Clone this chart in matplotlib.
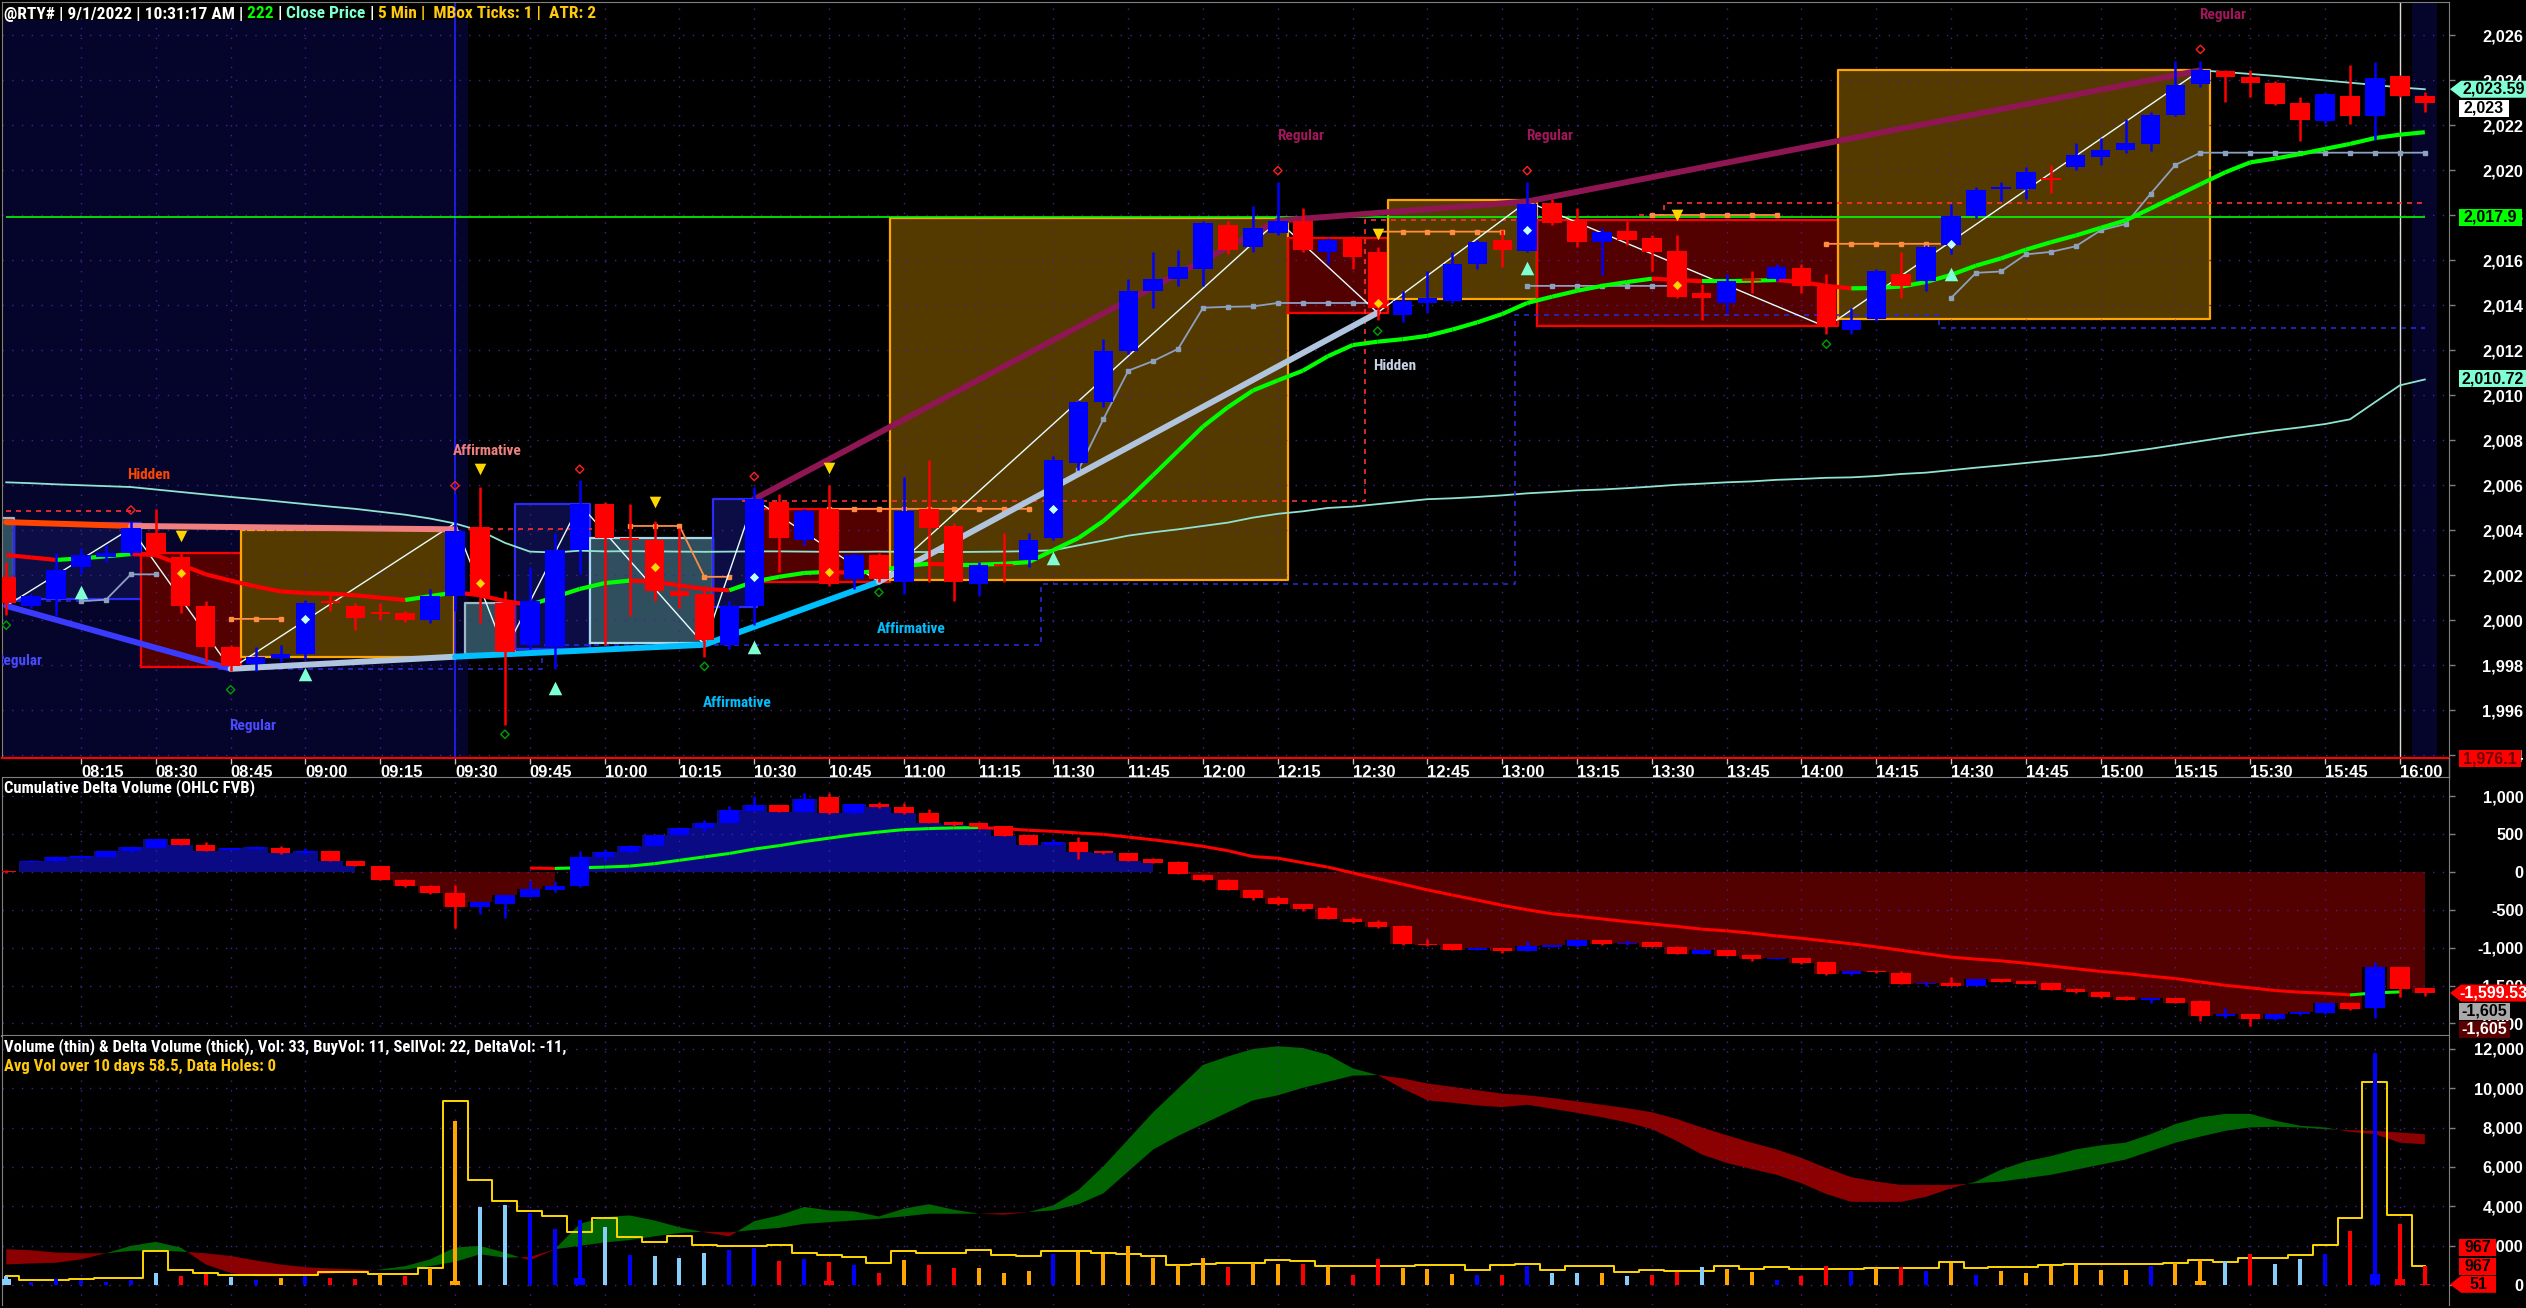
import matplotlib

matplotlib.use("Agg")

import matplotlib.pyplot as plt  # noqa: E402
import numpy as np  # noqa: E402
from matplotlib import font_manager  # noqa: E402
from matplotlib.collections import LineCollection  # noqa: E402
from matplotlib.patches import Polygon  # noqa: E402
from matplotlib.ticker import FuncFormatter  # noqa: E402
from matplotlib.transforms import IdentityTransform  # noqa: E402

W, H = 2526, 1308
nan = float("nan")

# ---------------------------------------------------------------- data
# 5 min bars, 08:00 .. 16:05 (98 bars)
time_labels = ["08:15", "08:30", "08:45", "09:00", "09:15", "09:30", "09:45", "10:00",
               "10:15", "10:30", "10:45", "11:00", "11:15", "11:30", "11:45", "12:00",
               "12:15", "12:30", "12:45", "13:00", "13:15", "13:30", "13:45", "14:00",
               "14:15", "14:30", "14:45", "15:00", "15:15", "15:30", "15:45", "16:00"]

price_open = [2001.92, 2000.63, 2000.95, 2002.35, 2002.78, 2003.00, 2003.86, 2002.78, 2000.63, 1998.80,
              1998.04, 1998.30, 1998.47, 2000.84, 2000.63, 2000.37, 2000.31, 1999.98, 2001.06, 2004.12,
              2000.74, 1998.90, 1998.80, 2003.11, 2005.15, 2003.64, 2003.54, 2001.27, 2001.17, 1998.90,
              2000.63, 2005.26, 2003.54, 2004.94, 2001.81, 2002.89, 2001.71, 2004.94, 2004.18, 2001.60,
              2002.50, 2002.67, 2003.64, 2006.98, 2009.68, 2011.94, 2014.63, 2015.17, 2015.60, 2017.54,
              2016.57, 2017.22, 2017.75, 2016.36, 2017.00, 2016.36, 2013.56, 2014.09, 2014.20, 2015.82,
              2016.89, 2016.40, 2018.55, 2017.75, 2016.79, 2017.28, 2017.00, 2016.40, 2014.52, 2014.09,
              2015.17, 2015.17, 2015.64, 2014.85, 2012.91, 2013.38, 2015.39, 2015.06, 2016.68, 2017.97,
              2019.16, 2019.16, 2019.63, 2020.12, 2020.56, 2020.88, 2021.16, 2022.45, 2023.83, 2024.39,
              2024.15, 2023.85, 2022.97, 2022.17, 2023.31, 2022.39, 2024.17, 2023.29]
price_high = [2002.57, 2001.17, 2003.00, 2003.21, 2003.32, 2004.40, 2004.94, 2003.00, 2000.84, 1998.90,
              1998.80, 1998.90, 2000.91, 2001.17, 2000.74, 2000.74, 2000.40, 2001.38, 2005.58, 2005.91,
              2001.27, 2002.35, 2003.86, 2006.23, 2005.26, 2005.15, 2004.40, 2004.07, 2001.49, 2000.84,
              2005.91, 2005.58, 2004.94, 2006.01, 2003.00, 2003.00, 2006.34, 2007.09, 2004.29, 2002.57,
              2003.86, 2003.86, 2007.31, 2009.78, 2012.48, 2015.17, 2016.36, 2016.46, 2017.75, 2017.75,
              2018.40, 2019.48, 2018.29, 2017.00, 2017.05, 2016.57, 2014.63, 2015.49, 2016.36, 2016.89,
              2017.32, 2019.48, 2018.72, 2018.29, 2017.43, 2017.75, 2017.10, 2017.11, 2014.95, 2015.39,
              2015.49, 2015.82, 2015.82, 2015.39, 2013.88, 2015.60, 2016.36, 2016.68, 2018.51, 2019.26,
              2019.48, 2020.12, 2020.23, 2021.20, 2021.42, 2022.28, 2022.60, 2024.86, 2024.86, 2024.43,
              2024.43, 2023.94, 2023.25, 2023.46, 2024.65, 2024.80, 2024.22, 2023.46]
price_low = [2000.24, 2000.52, 2000.20, 2002.03, 2002.60, 2002.90, 2002.78, 2000.31, 1998.15, 1997.72,
             1997.72, 1998.15, 1998.26, 2000.41, 1999.55, 1999.98, 1999.90, 1999.87, 2000.41, 1999.87,
             1995.35, 1998.69, 1997.83, 2002.03, 1998.90, 2000.20, 2000.84, 2000.52, 1998.37, 1998.69,
             1999.77, 2002.14, 2003.32, 2001.49, 2001.38, 2001.71, 2001.17, 2001.71, 2000.84, 2001.06,
             2001.71, 2002.35, 2003.54, 2006.66, 2009.46, 2011.83, 2013.88, 2014.85, 2014.85, 2016.25,
             2016.36, 2017.10, 2016.36, 2015.82, 2015.60, 2013.34, 2013.23, 2013.66, 2014.09, 2015.60,
             2015.71, 2016.36, 2017.54, 2016.57, 2015.32, 2016.68, 2015.49, 2014.30, 2013.34, 2013.66,
             2014.52, 2015.06, 2014.52, 2012.69, 2012.69, 2013.30, 2014.31, 2014.63, 2016.25, 2017.86,
             2018.62, 2018.72, 2018.98, 2020.02, 2020.23, 2020.77, 2020.83, 2022.39, 2023.68, 2023.03,
             2023.25, 2022.90, 2021.31, 2022.06, 2022.06, 2021.35, 2023.25, 2022.60]
price_close = [2000.74, 2001.06, 2002.24, 2002.89, 2003.00, 2004.07, 2003.00, 2000.63, 1998.80, 1997.94,
               1998.37, 1998.47, 2000.74, 2000.74, 2000.09, 2000.28, 1999.98, 2001.06, 2003.97, 2001.06,
               1998.58, 2000.84, 2003.11, 2005.15, 2003.64, 2003.54, 2001.27, 2001.06, 1999.12, 2000.63,
               2005.37, 2003.64, 2004.83, 2001.60, 2002.89, 2001.81, 2004.83, 2004.07, 2001.71, 2002.46,
               2002.42, 2003.54, 2007.09, 2009.68, 2011.94, 2014.63, 2015.17, 2015.71, 2017.65, 2016.46,
               2017.43, 2017.75, 2016.46, 2016.89, 2016.14, 2013.88, 2014.20, 2014.31, 2015.82, 2016.79,
               2016.46, 2018.51, 2017.65, 2016.79, 2017.26, 2016.89, 2016.36, 2014.37, 2014.31, 2015.06,
               2015.06, 2015.71, 2014.85, 2013.02, 2013.34, 2015.49, 2014.85, 2016.57, 2017.97, 2019.09,
               2019.26, 2019.91, 2019.54, 2020.66, 2020.88, 2021.20, 2022.45, 2023.79, 2024.43, 2024.15,
               2023.85, 2022.92, 2022.24, 2023.36, 2022.39, 2024.11, 2023.29, 2023.00]

ma_fast = [2002.89, 2002.78, 2002.67, 2002.74, 2002.83, 2002.93, 2002.89, 2002.46, 2002.03, 2001.75,
           2001.49, 2001.27, 2001.20, 2001.17, 2001.10, 2000.99, 2000.89, 2001.06, 2001.23, 2001.10,
           2000.84, 2000.67, 2001.02, 2001.38, 2001.64, 2001.75, 2001.71, 2001.53, 2001.38, 2001.32,
           2001.71, 2001.92, 2002.09, 2002.14, 2002.09, 2002.18, 2002.40, 2002.50, 2002.46, 2002.46,
           2002.50, 2002.57, 2003.11, 2003.64, 2004.40, 2005.37, 2006.44, 2007.52, 2008.60, 2009.46,
           2010.20, 2010.65, 2011.08, 2011.72, 2012.22, 2012.37, 2012.48, 2012.63, 2012.91, 2013.23,
           2013.60, 2014.09, 2014.37, 2014.63, 2014.85, 2015.02, 2015.17, 2015.11, 2015.06, 2015.06,
           2015.08, 2015.11, 2015.02, 2014.85, 2014.74, 2014.76, 2014.82, 2015.02, 2015.34, 2015.75,
           2016.07, 2016.46, 2016.79, 2017.09, 2017.43, 2017.76, 2018.29, 2018.83, 2019.37, 2019.90,
           2020.34, 2020.51, 2020.71, 2020.94, 2021.16, 2021.42, 2021.57, 2021.68]
ma_slow = [2006.12, 2006.08, 2006.03, 2005.99, 2005.95, 2005.91, 2005.80, 2005.69, 2005.58, 2005.47,
           2005.37, 2005.26, 2005.15, 2005.04, 2004.94, 2004.81, 2004.68, 2004.51, 2004.29, 2003.97,
           2003.43, 2003.04, 2003.00, 2003.08, 2003.05, 2003.06, 2003.05, 2003.04, 2003.03, 2003.04,
           2003.05, 2003.05, 2003.04, 2003.03, 2003.03, 2003.04, 2003.03, 2003.02, 2003.02, 2003.03,
           2003.04, 2003.06, 2003.10, 2003.32, 2003.53, 2003.75, 2003.90, 2004.03, 2004.18, 2004.33,
           2004.55, 2004.72, 2004.83, 2004.98, 2005.04, 2005.15, 2005.26, 2005.37, 2005.41, 2005.47,
           2005.54, 2005.63, 2005.69, 2005.76, 2005.80, 2005.86, 2005.93, 2006.01, 2006.06, 2006.12,
           2006.16, 2006.23, 2006.27, 2006.32, 2006.34, 2006.40, 2006.49, 2006.55, 2006.66, 2006.77,
           2006.87, 2006.98, 2007.09, 2007.20, 2007.31, 2007.46, 2007.61, 2007.78, 2007.95, 2008.12,
           2008.28, 2008.43, 2008.56, 2008.71, 2008.92, 2009.68, 2010.43, 2010.69]
top_line = [nan] * 88 + [2024.43, 2024.35, 2024.27, 2024.18, 2024.08, 2023.98, 2023.88, 2023.78,
                         2023.67, 2023.59]
trail_gray = ([nan] * 3 + [2000.84, 2000.90, 2002.03, 2002.03] + [nan] * 36
              + [2006.66, 2008.92, 2011.08, 2011.51, 2012.05, 2013.88, 2013.92, 2013.94]
              + [2014.09] * 5 + [nan] * 5 + [2014.85] * 7 + [nan] * 10
              + [2014.31, 2015.43, 2015.49, 2016.25, 2016.36, 2016.61, 2017.32, 2017.60, 2018.94,
                 2020.23] + [2020.77] * 10)
trail_orange = ([nan] * 9 + [2000.05] * 3 + [nan] * 13 + [2004.18] * 3 + [2001.92] * 2 + [nan] * 3
                + [2004.94] * 9 + [nan] * 13 + [2017.26] * 6 + [nan] * 5 + [2018.00] * 6 + [nan]
                + [2016.72] * 6 + [nan] * 19)
level_red = ([2004.83] * 6 + [nan] * 13 + [2004.03] * 5 + [nan] * 6 + [2005.30] * 25
             + [2017.76] * 7 + [nan] * 4 + [2018.00] + [2018.55] * 31)
level_blue = ([2000.85] * 4 + [nan] * 5 + [1997.83] * 13 + [1998.90] * 20 + [2001.60] * 19
              + [2013.55] * 17 + [2012.97] * 20)
green_level = 2017.9

zigzag_idx = [0, 5, 9, 18, 20, 23, 28, 30, 35, 51, 55, 61, 73, 88]
zigzag_px = [2000.63, 2004.07, 1997.83, 2004.30, 1998.62, 2005.15, 1998.90, 2005.37, 2001.70,
             2017.75, 2013.66, 2018.60, 2013.02, 2024.43]

div_line_idx = [[0, 5], [5, 18], [0, 9], [9, 18], [18, 28, 35], [35, 55], [30, 51, 61, 88]]
div_line_px = [[2004.35, 2004.18], [2004.18, 2004.03], [2000.63, 1997.83], [1997.83, 1998.37],
               [1998.37, 1998.90, 2001.70], [2001.70, 2013.66], [2005.37, 2017.75, 2018.60, 2024.43]]
div_line_color = ["#FF4500", "#F08080", "#3B3BFF", "#B0C4DE", "#00BFFF", "#B0C4DE", "#8E1652"]

div_text = ["Hidden", "Affirmative", "Regular", "Regular", "Affirmative", "Affirmative", "Hidden",
            "Regular", "Regular", "Regular"]
div_text_idx = [5.7, 19.3, 0.5, 9.9, 29.3, 36.3, 55.7, 51.9, 61.9, 88.9]
div_text_px = [2006.45, 2007.5, 1998.2, 1995.3, 1996.3, 1999.6, 2011.3, 2021.5, 2021.5, 2026.87]
div_text_color = ["#FF4500", "#F08080", "#4A4AFF", "#4A4AFF", "#00BFFF", "#00BFFF", "#C8D2E6",
                  "#A0185A", "#A0185A", "#A0185A"]

tri_dn_idx = [7, 19, 26, 33, 55, 67]
tri_dn_px = [2003.75, 2006.70, 2005.26, 2006.77, 2017.17, 2018.01]
tri_up_idx = [3, 12, 22, 30, 42, 61, 78]
tri_up_px = [2001.23, 1997.61, 1996.97, 1998.80, 2002.74, 2015.64, 2015.38]
top_dia_idx = [5, 18, 23, 30, 51, 61, 88]
top_dia_px = [2004.89, 2005.97, 2006.70, 2006.38, 2019.97, 2019.97, 2025.36]
bot_dia_idx = [0, 9, 20, 28, 35, 55, 73]
bot_dia_px = [1999.77, 1996.90, 1994.92, 1997.94, 2001.23, 2012.84, 2012.26]
yel_dot_idx = [7, 19, 26, 33, 55, 67]
yel_dot_px = [2002.07, 2001.66, 2002.35, 2002.14, 2014.09, 2014.89]
cyan_dot_idx = [12, 30, 42, 61, 78]
cyan_dot_px = [2000.05, 2001.92, 2004.94, 2017.32, 2016.72]

# MBox rectangles: left/right bar position, top/bottom price, kind
box_left = [-0.25, 0.33, 5.4, 9.4, 18.4, 20.4, 23.4, 28.35, 30.1, 35.45, 51.4, 55.4, 61.4, 73.45]
box_right = [0.33, 5.4, 9.4, 17.95, 20.4, 23.4, 28.35, 30.1, 35.45, 51.4, 55.4, 61.4, 73.45, 88.4]
box_top = [2004.55, 2004.30, 2003.00, 2004.00, 2000.74, 2005.15, 2003.65, 2005.37, 2004.93,
           2017.86, 2017.00, 2018.66, 2017.76, 2024.43]
box_bottom = [2000.95, 2000.95, 1997.90, 1998.37, 1998.47, 1998.70, 1999.00, 2000.60, 2001.70,
              2001.77, 2013.66, 2014.26, 2013.06, 2013.38]
box_kind = ["slate", "navy", "red", "brown", "slate", "navy", "slate2", "navy", "red", "brown",
            "red", "brown", "red", "brown"]

cdv_open = [0, 130, 144, 189, 198, 270, 315, 436, 355, 288,
            301, 315, 243, 279, 144, 76, -103, -180, -283, -463,
            -418, -328, -238, -193, 202, 256, 346, 481, 585, 648,
            805, 877, 796, 985, 774, 895, 850, 774, 661, 639,
            607, 481, 355, 391, 270, 247, 166, 135, -36, -103,
            -238, -342, -427, -472, -621, -666, -711, -950, -950, -1026,
            -1003, -1040, -994, -981, -900, -958, -927, -994, -1080, -1035,
            -1102, -1152, -1138, -1192, -1354, -1309, -1341, -1476, -1462, -1503,
            -1417, -1440, -1467, -1543, -1580, -1647, -1687, -1669, -1701, -1903,
            -1881, -1948, -1881, -1867, -1737, -1800, -1260, -1535]
cdv_high = [20, 160, 211, 220, 275, 330, 440, 440, 391, 320,
            335, 337, 315, 282, 148, 80, -98, -175, -171, -390,
            -300, -126, -126, 279, 301, 350, 485, 590, 684, 873,
            999, 880, 1035, 1044, 900, 918, 909, 832, 665, 661,
            610, 485, 436, 459, 274, 250, 189, 139, -32, -99,
            -234, -320, -423, -450, -600, -640, -707, -882, -946, -990,
            -999, -913, -963, -896, -896, -904, -923, -972, -1031, -1031,
            -1098, -1134, -1134, -1188, -1305, -1296, -1305, -1458, -1386, -1413,
            -1413, -1436, -1463, -1539, -1576, -1643, -1665, -1665, -1697, -1800,
            -1877, -1877, -1841, -1733, -1733, -1183, -1256, -1531]
cdv_low = [-10, 125, 140, 185, 195, 265, 310, 350, 275, 285,
           298, 240, 240, 140, 72, -108, -198, -288, -747, -553,
           -612, -333, -261, -198, 153, 250, 340, 475, 527, 643,
           800, 790, 790, 770, 770, 845, 770, 645, 610, 571,
           468, 350, 350, 167, 238, 140, 117, -31, -126, -242,
           -369, -432, -522, -625, -670, -738, -962, -972, -1030, -1030,
           -1074, -1044, -998, -985, -962, -962, -998, -1084, -1084, -1111,
           -1170, -1156, -1210, -1358, -1358, -1331, -1480, -1505, -1507, -1507,
           -1453, -1480, -1561, -1592, -1660, -1696, -1737, -1736, -1971, -1935,
           -2030, -1952, -1885, -1871, -1817, -1930, -1656, -1633]
cdv_close = [0, 150, 198, 211, 270, 324, 436, 355, 279, 310,
             324, 243, 279, 144, 76, -103, -193, -283, -463, -396,
             -306, -225, -180, 202, 256, 346, 481, 585, 648, 819,
             877, 796, 967, 774, 895, 850, 774, 648, 616, 594,
             472, 355, 391, 256, 243, 144, 121, -27, -103, -238,
             -342, -427, -486, -621, -666, -733, -958, -960, -1026, -1003,
             -1040, -981, -967, -900, -958, -936, -994, -1080, -1035, -1107,
             -1152, -1138, -1206, -1354, -1309, -1327, -1476, -1462, -1503, -1417,
             -1449, -1476, -1557, -1588, -1656, -1692, -1669, -1732, -1903, -1872,
             -1948, -1881, -1845, -1737, -1813, -1260, -1552, -1599.53]
cdv_ma = [nan] * 21 + [
    50, 45, 54, 63, 76, 108, 153, 198, 243,
    301, 346, 400, 445, 490, 526, 558, 571, 580, 585,
    571, 549, 535, 513, 495, 459, 423, 382, 337, 279,
    202, 180, 121, 63, -13, -90, -162, -238, -306, -373,
    -441, -500, -553, -585, -621, -657, -688, -720, -756, -778,
    -810, -846, -877, -913, -949, -990, -1035, -1080, -1125, -1152,
    -1174, -1206, -1242, -1278, -1314, -1341, -1377, -1408, -1453, -1498,
    -1530, -1566, -1588, -1602, -1624, -1597, -1584, nan]

volume = [456, 146, 319, 285, 165, 285, 628, 456, 576, 405,
          250, 370, 456, 370, 336, 576, 456, 885, 8346, 3972,
          4058, 3680, 2857, 3286, 2943, 1537, 1486, 1400, 1623, 1777,
          1914, 1228, 1314, 1194, 1022, 628, 1280, 1022, 885, 885,
          628, 713, 1605, 1691, 1571, 2000, 1400, 1022, 1365, 936,
          1142, 1056, 1056, 970, 542, 1314, 885, 850, 593, 507,
          542, 970, 628, 628, 628, 490, 542, 679, 936, 850,
          679, 285, 456, 970, 713, 885, 936, 713, 1142, 507,
          713, 628, 970, 1022, 765, 765, 970, 1108, 1280, 1228,
          1571, 1056, 1348, 1571, 2772, 11778, 3115, 967]
volume_kind = ["lb", "b", "b", "b", "b", "b", "lb", "r", "r", "lb",
               "b", "o", "b", "r", "r", "o", "r", "o", "o", "lb",
               "lb", "b", "b", "b", "lb", "b", "lb", "lb", "lb", "b",
               "b", "r", "b", "r", "b", "r", "o", "r", "r", "o",
               "o", "o", "b", "o", "o", "o", "o", "o", "o", "r",
               "o", "o", "r", "o", "r", "r", "o", "o", "o", "b",
               "r", "b", "lb", "lb", "o", "lb", "r", "r", "lb", "o",
               "o", "b", "r", "r", "b", "o", "r", "b", "o", "b",
               "o", "o", "o", "o", "o", "o", "b", "o", "o", "lb",
               "r", "lb", "lb", "b", "r", "b", "r", "r"]
delta_volume = [300] + [0] * 17 + [200] + [0] * 4 + [350] + [0] * 9 + [200] + [0] * 54 + [200] \
    + [0] * 6 + [550, 300, 51]
avg_volume = [456, 285, 285, 319, 370, 370, 1742, 797, 628, 507,
              507, 542, 542, 679, 679, 593, 593, 885, 9326, 5344,
              4264, 3748, 3491, 2685, 3406, 2463, 2172, 2515, 2035, 2000,
              2000, 2035, 1623, 1537, 1434, 1108, 1742, 1623, 1657, 1777,
              1520, 1486, 1742, 1742, 1657, 1571, 1486, 1005, 1056, 1108,
              1142, 1263, 1228, 970, 970, 970, 970, 1022, 1022, 799,
              1022, 1056, 799, 970, 970, 660, 799, 747, 747, 970,
              833, 936, 833, 833, 833, 885, 885, 885, 1177, 885,
              936, 936, 1022, 1056, 1056, 1056, 1056, 1108, 1263, 1177,
              1400, 1400, 1537, 2052, 3406, 10319, 3543, 970]
vol_fast = [1056, 1107, 1142, 1314, 1623, 2000, 2203, 1914, 1056, 628,
            456, 456, 542, 593, 679, 800, 970, 1314, 1914, 2000,
            1657, 1262, 1828, 3115, 3457, 3543, 3286, 2943, 2686, 2480,
            3252, 3543, 3972, 3800, 3748, 3491, 3886, 4110, 3835, 3629,
            3577, 3714, 4058, 4830, 6030, 7400, 8774, 9975, 11175, 11604,
            11981, 12118, 12032, 11690, 11000, 10662, 9976, 9376, 9256, 9118,
            9033, 9153, 8947, 8741, 8517, 8260, 7917, 7317, 6631, 6202,
            5893, 5602, 5173, 4624, 4230, 4230, 4230, 4487, 4916, 5259,
            5859, 6287, 6545, 6889, 7094, 7231, 7660, 8175, 8517, 8689,
            8689, 8346, 8089, 8003, 7780, 7660, 7231, 7145]
vol_slow = [1828, 1777, 1657, 1623, 1623, 1742, 1777, 1708, 1623, 1486,
            1263, 1056, 919, 850, 800, 765, 800, 970, 1194, 1571,
            1400, 1434, 1828, 2000, 2172, 2292, 2480, 2652, 2720, 2686,
            2806, 2909, 3115, 3200, 3286, 3372, 3491, 3629, 3629, 3629,
            3663, 3714, 3800, 4110, 4658, 5773, 6886, 7574, 8175, 8775,
            9375, 9633, 10010, 10319, 10628, 10662, 10490, 10233, 10061, 9890,
            9719, 9633, 9496, 9324, 9153, 8982, 8775, 8432, 8003, 7608,
            7231, 6889, 6460, 5945, 5482, 5259, 5088, 5088, 5088, 5173,
            5259, 5431, 5602, 5859, 6116, 6373, 6802, 7231, 7540, 7831,
            8003, 8037, 8003, 7917, 7866, 7831, 7745, 7660]

# ---------------------------------------------------------------- style
_installed = {f.name for f in font_manager.fontManager.ttflist}
_narrow = next((n for n in ("Liberation Sans Narrow", "Roboto Condensed", "Open Sans Condensed")
                if n in _installed), None)
BOLD = ["Liberation Sans", "DejaVu Sans"]
NARROW = [_narrow, "DejaVu Sans"] if _narrow else BOLD
HEAD_SIZE = 12.5 if _narrow else 11.8
TITLE_SIZE = 12 if _narrow else 11.8
VOL_TITLE_SIZE = 12 if _narrow else 12.3
UP, DOWN = "#0000FF", "#FF0000"
GRID = "#4B2090"
GOLD = "#FFC90E"
VCOL = {"lb": "#87CEFA", "b": "#0000FF", "r": "#FF0000", "o": "#FFA500"}
BOX_STYLE = {
    "slate": ("#2F4F5F", "#9FB6C8"),
    "slate2": ("#2F4F5F", "#ADD8E6"),
    "navy": ("#0D0D45", "#2A2AFF"),
    "red": ("#520000", "#FF0000"),
    "brown": ("#553A00", "#FFA500"),
}

x = np.arange(len(price_close))
XLIM = (-0.17, 97.97)


def draw_candles(ax, o, h, l, c, min_body):
    o, h, l, c = (np.asarray(v, float) for v in (o, h, l, c))
    colors = np.where(c > o, UP, DOWN)
    ax.vlines(x, l, h, colors=colors, lw=1.8, zorder=4)
    ax.bar(x, np.maximum(np.abs(c - o), min_body), bottom=np.minimum(o, c), width=0.78,
           color=colors, lw=0, zorder=4)


def slope_line(ax, y, lw):
    y = np.asarray(y, float)
    pts = np.column_stack([x, y])
    segs = np.stack([pts[:-1], pts[1:]], axis=1)
    ok = ~np.isnan(segs).any(axis=(1, 2))
    cols = np.where(y[1:] >= y[:-1], "#00FF00", "#FF0000")
    ax.add_collection(LineCollection(segs[ok], colors=cols[ok], linewidths=lw, zorder=3.5))


def style_axes(ax, ylim, yticks, top_color="#808080", bottom_color="#808080"):
    ax.set_facecolor("black")
    ax.set_xlim(*XLIM)
    ax.set_ylim(*ylim)
    ax.set_yticks(yticks)
    ax.yaxis.set_major_formatter(FuncFormatter(lambda v, _: f"{v:,.0f}"))
    ax.yaxis.tick_right()
    ax.tick_params(axis="y", length=4, width=1, color="#808080", labelcolor="white",
                   pad=49.7, labelsize=11.8)
    for lbl in ax.get_yticklabels():
        lbl.set_horizontalalignment("right")
        lbl.set_fontweight("bold")
        lbl.set_family(BOLD)
    ax.set_xticks(range(3, 97, 3))
    ax.set_axisbelow("line")
    ax.grid(True, color=GRID, lw=1, ls=(0, (1, 6)))
    for side in ("left", "right"):
        ax.spines[side].set_color("#808080")
    ax.spines["top"].set_color(top_color if top_color else "black")
    ax.spines["top"].set_visible(top_color is not None)
    ax.spines["bottom"].set_color(bottom_color if bottom_color else "black")
    ax.spines["bottom"].set_visible(bottom_color is not None)
    ax.spines["bottom"].set_linewidth(1.5)


fig = plt.figure(figsize=(W / 100, H / 100), dpi=100, facecolor="black")
ax_p = fig.add_axes([2 / W, 1 - 758 / H, 2447 / W, 756 / H])
ax_c = fig.add_axes([2 / W, 1 - 1036 / H, 2447 / W, 259 / H], sharex=ax_p)
ax_v = fig.add_axes([2 / W, 1 - 1305 / H, 2447 / W, 269 / H], sharex=ax_p)

style_axes(ax_p, (1993.867, 2027.467), np.arange(1994, 2027, 2), bottom_color="#FF0000")
style_axes(ax_c, (-2166, 1252), np.arange(-2000, 1001, 500))
style_axes(ax_v, (-999, 12639), np.arange(0, 12001, 2000), top_color=None, bottom_color=None)

ax_p.set_xticks(range(3, 97, 3), time_labels)
ax_p.tick_params(axis="x", length=4, width=1, color="#C0C0C0", labelcolor="white", pad=1,
                 labelsize=12)
for lbl in ax_p.get_xticklabels():
    lbl.set_horizontalalignment("left")
    lbl.set_fontweight("bold")
    lbl.set_family(BOLD)
for ax in (ax_c, ax_v):
    ax.tick_params(axis="x", length=0, labelbottom=False)

# ---------------------------------------------------------------- price panel
top_frac = 1 - 18 / 756
ax_p.axvspan(XLIM[0], 18.5, ymax=top_frac, color="#05052B", lw=0, zorder=0.1)
ax_p.axvspan(96.5, 97.5, color="#05052B", lw=0, zorder=0.1)
ax_p.axvline(18, color="#2020FF", lw=1.2, zorder=1.6)
ax_p.axvline(96, color="#DCDCDC", lw=1, zorder=1.6)

for x0, x1, top, bot, kind in zip(box_left, box_right, box_top, box_bottom, box_kind):
    fc, ec = BOX_STYLE[kind]
    ax_p.fill_between([x0, x1], bot, top, facecolor=fc, edgecolor="none", zorder=1)
    ax_p.plot([x0, x1, x1, x0, x0], [bot, bot, top, top, bot], color=ec, lw=1.6, zorder=1.2)

ax_p.hlines(green_level, 0, 97, color="#00FF00", lw=1.2, zorder=2)
ax_p.plot(x, ma_slow, color="#8FE3D0", lw=1.3, zorder=2)
ax_p.plot(x, top_line, color="#8FE3D0", lw=1.3, zorder=2)
ax_p.plot(x, level_red, color="#FF3030", lw=1.2, ls=(0, (3, 3)), drawstyle="steps-mid", zorder=2)
ax_p.plot(x, level_blue, color="#2828D0", lw=1.2, ls=(0, (3, 3)), drawstyle="steps-mid", zorder=2)
ax_p.plot(x, trail_gray, color="#8CA0C0", lw=1.3, marker="s", ms=3, zorder=2)
ax_p.plot(x, trail_orange, color="#FF8C40", lw=1.3, marker="s", ms=2.5, zorder=2)
ax_p.plot(zigzag_idx, zigzag_px, color="#E8FFFF", lw=1, zorder=2.2)

for idx, px, col in zip(div_line_idx, div_line_px, div_line_color):
    ax_p.plot(idx, px, color=col, lw=4.3, solid_capstyle="round", zorder=3)

slope_line(ax_p, ma_fast, 3.0)
draw_candles(ax_p, price_open, price_high, price_low, price_close, 0.07)

ax_p.scatter(tri_dn_idx, tri_dn_px, marker="v", s=70, color="#FFD700", lw=0, zorder=5)
ax_p.scatter(tri_up_idx, tri_up_px, marker="^", s=95, color="#7FFFD4", lw=0, zorder=5)
ax_p.scatter(top_dia_idx, top_dia_px, marker="D", s=18, facecolor="none", edgecolor="#FF2020",
             lw=1, zorder=5)
ax_p.scatter(bot_dia_idx, bot_dia_px, marker="D", s=18, facecolor="none", edgecolor="#00A000",
             lw=1, zorder=5)
ax_p.scatter(yel_dot_idx, yel_dot_px, marker="D", s=22, color="#FFD700", lw=0, zorder=5)
ax_p.scatter(cyan_dot_idx, cyan_dot_px, marker="D", s=22, color="#C0FFFF", lw=0, zorder=5)

for t, i, p, c in zip(div_text, div_text_idx, div_text_px, div_text_color):
    ax_p.text(i, p, t, color=c, ha="center", va="center", fontsize=11, fontweight="bold",
              family=NARROW, zorder=6, clip_on=True)

# ---------------------------------------------------------------- cumulative delta panel
cc = np.asarray(cdv_close, float)
ax_c.fill_between(x, 0, cc, where=cc >= 0, step="mid", color="#0A0A85", lw=0, zorder=1)
ax_c.fill_between(x, 0, cc, where=cc <= 0, step="mid", color="#520000", lw=0, zorder=1)
slope_line(ax_c, cdv_ma, 2.2)
draw_candles(ax_c, cdv_open, cdv_high, cdv_low, cdv_close, 14)

# ---------------------------------------------------------------- volume panel
vf, vs = np.asarray(vol_fast, float), np.asarray(vol_slow, float)
ax_v.fill_between(x, vf, vs, where=vf >= vs, interpolate=True, color="#006400", lw=0, zorder=1)
ax_v.fill_between(x, vf, vs, where=vf < vs, interpolate=True, color="#8B0000", lw=0, zorder=1)
ax_v.step(x, avg_volume, where="mid", color="#FFD700", lw=1.4, zorder=2)
vcols = [VCOL[k] for k in volume_kind]
ax_v.bar(x, volume, width=0.16, color=vcols, lw=0, zorder=3)
ax_v.bar(x, delta_volume, width=0.42, color=vcols, lw=0, zorder=3.5)


# ---------------------------------------------------------------- titles
def rainbow(x_px, y_px, pieces, size):
    t = fig.text(x_px / W, 1 - y_px / H, pieces[0][0], color=pieces[0][1], ha="left",
                 va="center", fontsize=size, fontweight="bold", family=NARROW)
    for s, c in pieces[1:]:
        t = ax_p.annotate(s, xy=(1, 0), xycoords=t, va="bottom", ha="left", color=c,
                          fontsize=size, fontweight="bold", family=NARROW,
                          annotation_clip=False)


rainbow(4, 14, [("@RTY# | 9/1/2022 | 10:31:17 AM |", "white"), (" 222", "#00FF00"),
                (" |", "white"), (" Close Price", "#7FFFD4"), (" |", "white"),
                (" 5 Min |  MBox Ticks: 1 |  ATR: 2", GOLD)], HEAD_SIZE)
fig.text(4 / W, 1 - 788 / H, "Cumulative Delta Volume (OHLC FVB)", color="white", ha="left",
         va="center", fontsize=TITLE_SIZE, fontweight="bold", family=NARROW)
fig.text(4 / W, 1 - 1047 / H,
         "Volume (thin) & Delta Volume (thick), Vol: 33, BuyVol: 11, SellVol: 22, DeltaVol: -11,",
         color="white", ha="left", va="center", fontsize=VOL_TITLE_SIZE, fontweight="bold",
         family=NARROW)
fig.text(4 / W, 1 - 1066 / H, "Avg Vol over 10 days 58.5, Data Holes: 0", color=GOLD,
         ha="left", va="center", fontsize=TITLE_SIZE, fontweight="bold", family=NARROW)

# axis line through the time band
fig.add_artist(plt.Line2D([2449, 2449], [H - 777, H - 758], color="#808080", lw=1,
                          transform=IdentityTransform()))


# ---------------------------------------------------------------- value tags on the scale
def y_top(ax, v):
    return H - ax.transData.transform((0, v))[1]


def tag(yt, text, fc, tc, x0=2459, x1=2524, h=17, arrow=False):
    yc = H - yt
    pts = [(x0, yc + h / 2), (x1, yc + h / 2), (x1, yc - h / 2), (x0, yc - h / 2)]
    if arrow:
        pts = [(2450, yc)] + pts
    fig.add_artist(Polygon(pts, closed=True, facecolor=fc, edgecolor="none",
                           transform=IdentityTransform(), zorder=5))
    fig.text((x0 + x1) / 2 / W, yc / H, text, color=tc, ha="center", va="center",
             fontsize=11.5, fontweight="bold", family=BOLD, zorder=6)


tag(y_top(ax_p, 2023.59), "2,023.59", "#7FFFD4", "black", x0=2461, x1=2526, arrow=True)
tag(y_top(ax_p, 2023.0) + 5.5, "2,023", "white", "black", x1=2509)
tag(y_top(ax_p, green_level), "2,017.9", "#00FF00", "black", x1=2522)
tag(y_top(ax_p, 2010.72), "2,010.72", "#7FFFD4", "black", x1=2526)
tag(758.5, "1,976.1", "#FF0000", "#700000", x1=2521)
y_cdv = y_top(ax_c, -1599.53)
tag(y_cdv, "-1,599.53", "#FF0000", "white", x0=2461, x1=2526, arrow=True)
tag(y_cdv + 18, "-1,605", "#A9A9A9", "black", x1=2510)
tag(y_cdv + 36, "-1,605", "#5A0000", "white", x1=2510)
y_vol = y_top(ax_v, 967)
tag(y_vol - 19, "967", "#FF0000", "black", x1=2496)
tag(y_vol, "967", "#FF0000", "black", x1=2496)
tag(y_top(ax_v, 51), "51", "#FF0000", "black", x0=2461, x1=2496, arrow=True)

fig.savefig("out.png", dpi=100, facecolor="black")
